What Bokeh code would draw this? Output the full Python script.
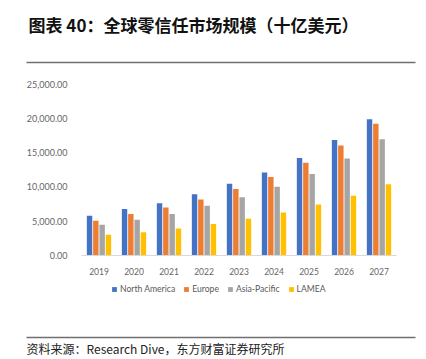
from bokeh.plotting import figure
from bokeh.models import (ColumnDataSource, Legend, LegendItem, FixedTicker,
                          NumeralTickFormatter, Range1d)
from bokeh.core.properties import value
from bokeh.embed import file_html
from bokeh.resources import INLINE

title_text = "图表 40：全球零信任市场规模（十亿美元）"
source_text = "资料来源：Research Dive，东方财富证券研究所"

years = ["2019", "2020", "2021", "2022", "2023", "2024", "2025", "2026", "2027"]
north_america = [5770, 6750, 7620, 8930, 10480, 12140, 14270, 16900, 19960]
europe = [5040, 6020, 6990, 8150, 9710, 11460, 13540, 16080, 19280]
asia_pacific = [4460, 5190, 6020, 7230, 8500, 10050, 11900, 14180, 17000]
lamea = [3000, 3340, 3920, 4560, 5340, 6260, 7420, 8730, 10390]
series_names = ["North America", "Europe", "Asia-Pacific", "LAMEA"]
y_ticks = [0, 5000, 10000, 15000, 20000, 25000]

colors = ["#4472C4", "#ED7D31", "#A5A5A5", "#FFC000"]

# canvas / layout (pixels)
W, H = 426, 359
plot_left, cat_w = 81.0, 35.0          # plot area left edge, width per category
plot_top, plot_bottom = 84.3, 254.6    # y pixel of 25000 and 0
y_max = 25000

xs = W / cat_w
x0 = -0.5 - plot_left / cat_w
ppu = (plot_bottom - plot_top) / y_max
y0 = -(H - plot_bottom) / ppu
y1 = y_max + plot_top / ppu

p = figure(width=W, height=H, x_range=Range1d(x0, x0 + xs), y_range=Range1d(y0, y1),
           min_border=0, toolbar_location=None, output_backend="svg")
p.outline_line_color = None
p.grid.visible = False
p.extra_x_ranges = {"px": Range1d(0, W)}
p.extra_y_ranges = {"px": Range1d(H, 0)}

idx = list(range(len(years)))
src = ColumnDataSource(dict(i=idx, na=north_america, eu=europe, ap=asia_pacific, la=lamea))

offsets = [-0.27, -0.09, 0.09, 0.27]
cols = ["na", "eu", "ap", "la"]
renderers = []
for c, off, col in zip(cols, offsets, colors):
    r = p.vbar(x=[i + off for i in idx], top=src.data[c], width=0.155,
               fill_color=col, line_color=None)
    renderers.append(r)

# y axis
p.yaxis.fixed_location = -0.5
p.yaxis.ticker = FixedTicker(ticks=y_ticks)
p.yaxis.formatter = NumeralTickFormatter(format="0,0.00")
p.yaxis.axis_line_color = None
p.yaxis.major_tick_line_color = None
p.yaxis.minor_tick_line_color = None
p.yaxis.major_label_standoff = 8
p.yaxis.major_label_text_font = "Lato"
p.yaxis.major_label_text_font_size = "9px"
p.yaxis.major_label_text_color = "#666666"

# x axis
p.xaxis.fixed_location = 0
p.xaxis.bounds = (-0.5, len(years) - 0.5)
p.xaxis.ticker = FixedTicker(ticks=idx)
p.xaxis.major_label_overrides = {i: y for i, y in zip(idx, years)}
p.xaxis.axis_line_color = "#D9D9D9"
p.xaxis.major_tick_line_color = None
p.xaxis.minor_tick_line_color = None
p.xaxis.major_label_standoff = 7
p.xaxis.major_label_text_font = "Lato"
p.xaxis.major_label_text_font_size = "8.5px"
p.xaxis.major_label_text_color = "#666666"

legend = Legend(items=[LegendItem(label=n, renderers=[r]) for n, r in zip(series_names, renderers)],
                orientation="horizontal", location=(111, 65),
                glyph_width=6, glyph_height=6, label_height=10, label_standoff=3,
                spacing=8, padding=0, margin=0, border_line_color=None,
                background_fill_alpha=0, label_text_font="Lato",
                label_text_font_size="8.6px", label_text_color="#595959")
p.add_layout(legend)

# title, rules and source (pixel coordinates)
p.text(x=[28], y=[24], text=[title_text], text_font=value("Noto Sans CJK SC"),
       text_font_style="bold", text_font_size="17px", text_color="#111111",
       text_baseline="middle", text_align="left", x_range_name="px", y_range_name="px")
p.segment(x0=[26, 26], y0=[62, 337], x1=[415, 415], y1=[62, 337],
          line_color="#707070", line_width=1.5, x_range_name="px", y_range_name="px")
p.text(x=[26], y=[348], text=[source_text], text_font=value("Noto Sans CJK SC"),
       text_font_size="12px", text_color="#222222",
       text_baseline="middle", text_align="left", x_range_name="px", y_range_name="px")

open("out.html", "w").write(file_html(p, INLINE))
